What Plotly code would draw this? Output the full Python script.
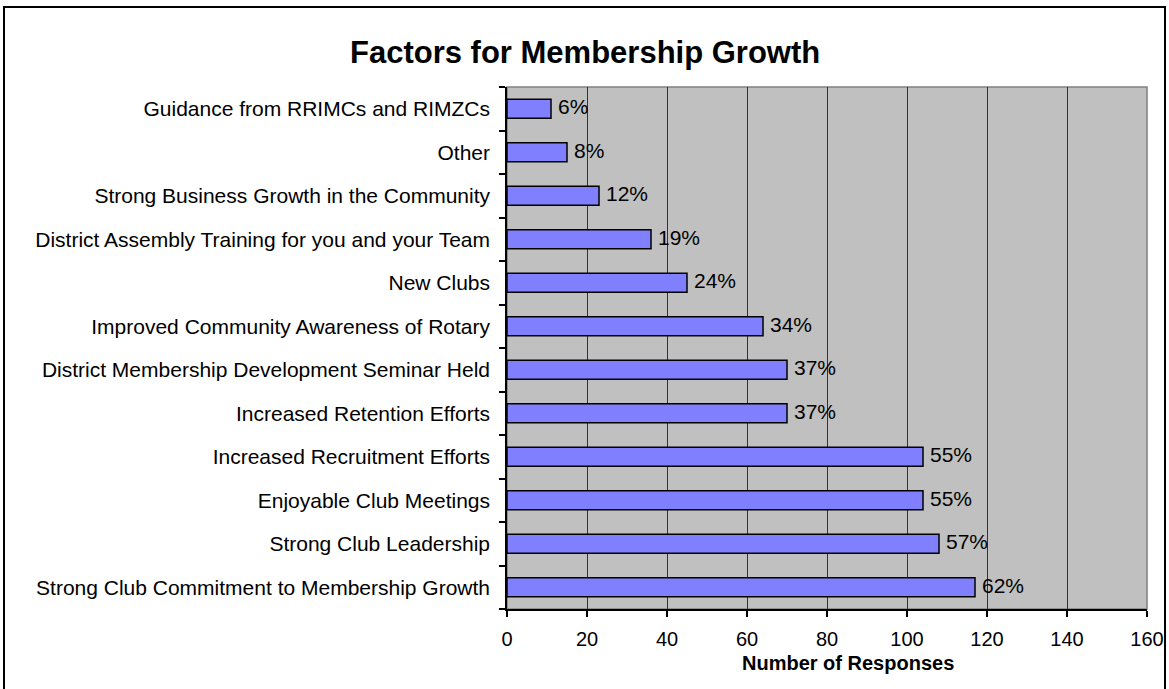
import plotly.graph_objects as go

# Survey responses per factor (listed bottom to top)
factors = [
    "Strong Club Commitment to Membership Growth",
    "Strong Club Leadership",
    "Enjoyable Club Meetings",
    "Increased Recruitment Efforts",
    "Increased Retention Efforts",
    "District Membership Development Seminar Held",
    "Improved Community Awareness of Rotary",
    "New Clubs",
    "District Assembly Training for you and your Team",
    "Strong Business Growth in the Community",
    "Other",
    "Guidance from RRIMCs and RIMZCs",
]
responses = [117, 108, 104, 104, 70, 70, 64, 45, 36, 23, 15, 11]
percent_labels = ["62%", "57%", "55%", "55%", "37%", "37%", "34%", "24%", "19%", "12%", "8%", "6%"]
x_ticks = [0, 20, 40, 60, 80, 100, 120, 140, 160]

FONT = "Liberation Sans, Arial, sans-serif"
W, H = 1169, 689
L, R, T, B = 507, 22, 87, 80
pw, ph = W - L - R, H - T - B

fig = go.Figure()
fig.add_trace(go.Bar(
    x=responses,
    y=factors,
    orientation="h",
    width=0.44,
    marker=dict(color="#8080FF", line=dict(color="#000000", width=1.5)),
    hoverinfo="x+y",
))

# Percentage labels to the right of each bar
for v, cat, lab in zip(responses, factors, percent_labels):
    fig.add_annotation(
        x=v, y=cat, text=lab, showarrow=False,
        xanchor="left", yanchor="middle", xshift=5, yshift=2,
        font=dict(family=FONT, size=21, color="#000000"),
    )

# Chart title
fig.add_annotation(
    x=(585 - L) / pw, y=(H - B - 52) / ph, xref="paper", yref="paper",
    text="<b>Factors for Membership Growth</b>", showarrow=False,
    xanchor="center", yanchor="middle",
    font=dict(family=FONT, size=31, color="#000000"),
)

# X axis title
fig.add_annotation(
    x=(848 - L) / pw, y=(H - B - 663) / ph, xref="paper", yref="paper",
    text="<b>Number of Responses</b>", showarrow=False,
    xanchor="center", yanchor="middle",
    font=dict(family=FONT, size=20, color="#000000"),
)

# Outer chart frame
fig.add_shape(
    type="rect", xref="paper", yref="paper",
    x0=(4 - L) / pw, x1=(1165 - L) / pw,
    y0=(H - B - 720) / ph, y1=(H - B - 7) / ph,
    line=dict(color="#000000", width=2), fillcolor="rgba(0,0,0,0)",
)
# Plot area border
fig.add_shape(
    type="rect", xref="paper", yref="paper", x0=0, x1=1, y0=0, y1=1,
    line=dict(color="#808080", width=1.5), fillcolor="rgba(0,0,0,0)",
    layer="below",
)

fig.update_layout(
    width=W, height=H,
    margin=dict(l=L, r=R, t=T, b=B, pad=0, autoexpand=False),
    paper_bgcolor="#FFFFFF",
    plot_bgcolor="#C0C0C0",
    showlegend=False,
    font=dict(family=FONT, size=20, color="#000000"),
)
fig.update_xaxes(
    range=[0, 160], tickvals=x_ticks, ticktext=[str(t) for t in x_ticks],
    showgrid=True, gridcolor="#333333", gridwidth=1,
    showline=True, linecolor="#000000", linewidth=1.5,
    ticks="outside", ticklen=6, tickcolor="#000000", tickwidth=1.5,
    ticklabelstandoff=5, automargin=False,
    tickfont=dict(family=FONT, size=20, color="#000000"),
    zeroline=False, fixedrange=True,
)
fig.update_yaxes(
    categoryorder="array", categoryarray=factors,
    showgrid=False, showline=True, linecolor="#000000", linewidth=1.5,
    ticks="outside", ticklen=6, tickcolor="#000000", tickwidth=1.5,
    tickson="boundaries", ticklabelstandoff=11, automargin=False,
    tickfont=dict(family=FONT, size=21, color="#000000"),
    fixedrange=True,
)

fig.write_html("out.html")
